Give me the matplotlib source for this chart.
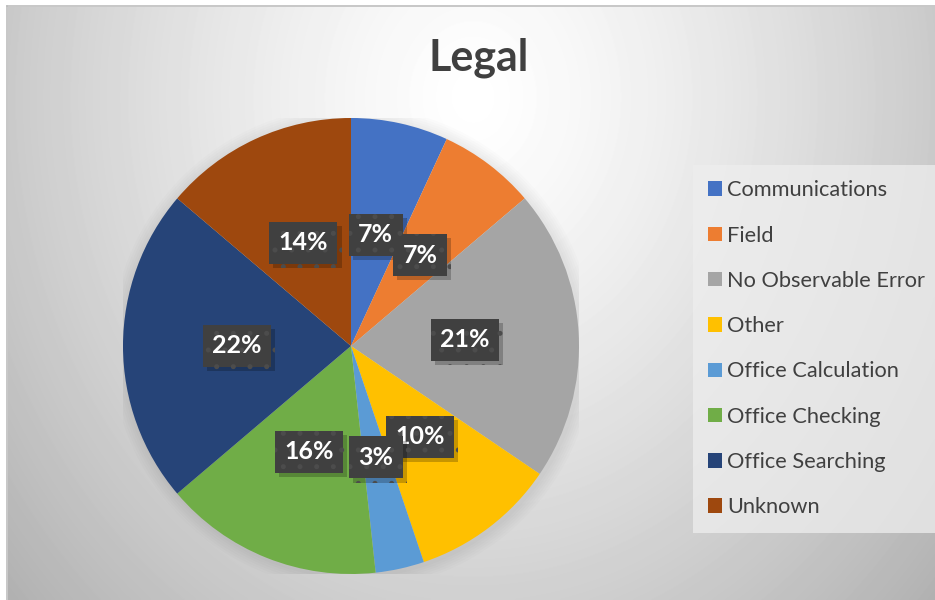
"""Legal error categories shown as an Excel-style pie chart."""

import numpy as np
import matplotlib
matplotlib.use("Agg")
import matplotlib.pyplot as plt
import matplotlib.patheffects as pe

categories = [
    "Communications",
    "Field",
    "No Observable Error",
    "Other",
    "Office Calculation",
    "Office Checking",
    "Office Searching",
    "Unknown",
]
counts = [4, 4, 12, 6, 2, 9, 13, 8]
colors = ["#4472C4", "#ED7D31", "#A5A5A5", "#FFC000",
          "#5B9BD5", "#70AD47", "#264478", "#9E480E"]

plt.rcParams["font.family"] = ["Lato", "DejaVu Sans"]
plt.rcParams["hatch.linewidth"] = 1.2

W, H = 935, 600
fig = plt.figure(figsize=(W / 100, H / 100), dpi=100)

# background with a radial grey gradient (chart area starts a few px in)
bg = fig.add_axes([8 / W, 0, (W - 8) / W, (H - 7) / H])
yy, xx = np.mgrid[0:593, 0:927]
d = np.sqrt(((xx - 465) / 520.0) ** 2 + ((yy - 90) / 620.0) ** 2)
shade = 1.0 - 0.24 * np.clip(d, 0, 1.2) ** 1.3
bg.imshow(shade, cmap="gray", vmin=0, vmax=1, aspect="auto",
          extent=[0, 1, 0, 1], origin="upper", interpolation="bilinear")
bg.set_xlim(0, 1)
bg.set_ylim(0, 1)
bg.axis("off")
fig.add_artist(plt.Line2D([7 / W, 7 / W], [0, (H - 6) / H], color="#bdbdbd", lw=1.2))
fig.add_artist(plt.Line2D([7 / W, 1], [(H - 6) / H, (H - 6) / H], color="#bdbdbd", lw=1.2))

# pie axes: centre (351, 346) px, radius 228 px
cx, cy, r = 351, 346, 228
ax = fig.add_axes([(cx - r) / W, (H - cy - r) / H, 2 * r / W, 2 * r / H])

# soft shadow under the pie
for k in range(6):
    ax.add_patch(plt.Circle((0.008, -0.008), 1.0 + 0.01 * (k + 1),
                            color="black", alpha=0.012, lw=0))

wedges, _, autotexts = ax.pie(
    counts,
    colors=colors,
    startangle=90,
    counterclock=False,
    radius=1.0,
    autopct="%.0f%%",
    pctdistance=0.5,
    wedgeprops=dict(linewidth=0),
    textprops=dict(color="white", fontsize=18, fontweight="bold"),
)
ax.set_xlim(-1, 1)
ax.set_ylim(-1, 1)
ax.set_aspect("equal")
ax.axis("off")

# dark dotted label boxes with a drop shadow
for t in autotexts:
    t.set_zorder(5)
    t.set_bbox(dict(boxstyle="square,pad=0.38", facecolor="#404040",
                    edgecolor="#4c4c4c", linewidth=0, hatch="."))
    t.get_bbox_patch().set_path_effects([
        pe.SimplePatchShadow(offset=(3, -3), shadow_rgbFace="black", alpha=0.22),
        pe.Normal(),
    ])

fig.text(479 / W, 1 - 58 / H, "Legal", ha="center", va="center",
         fontsize=31, fontweight="bold", color="#404040")

leg = fig.legend(
    wedges, categories,
    loc="upper left",
    bbox_to_anchor=(693 / W, 1 - 165 / H),
    frameon=True,
    fontsize=15.7,
    labelspacing=1.16,
    handlelength=0.65,
    handleheight=0.65,
    handletextpad=0.22,
    borderpad=0.7,
    borderaxespad=0,
    fancybox=False,
)
leg.get_frame().set_facecolor("#eeeeee")
leg.get_frame().set_alpha(0.75)
leg.get_frame().set_linewidth(0)
for txt in leg.get_texts():
    txt.set_color("#404040")

fig.savefig("out.png", dpi=100)
